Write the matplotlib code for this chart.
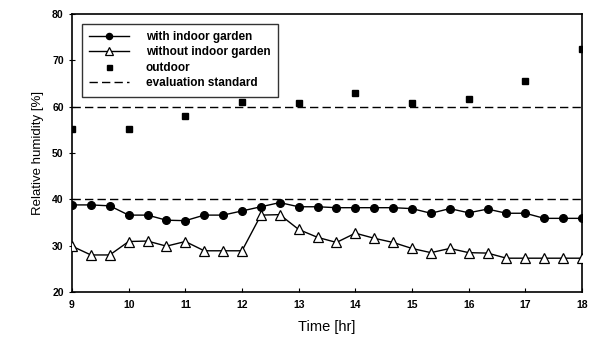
import numpy as np
import matplotlib
matplotlib.use("Agg")
import matplotlib.pyplot as plt

plt.rcParams["font.family"] = ["Liberation Sans", "DejaVu Sans"]

# readings every 20 min, 9:00 - 18:00
time_hr = [9 + i / 3 for i in range(28)]
with_garden = [38.8, 38.8, 38.6, 36.6, 36.6, 35.5, 35.4, 36.6, 36.6, 37.5,
               38.4, 39.3, 38.4, 38.4, 38.2, 38.2, 38.2, 38.2, 38.0, 37.0,
               38.0, 37.1, 37.9, 37.0, 37.0, 35.9, 35.9, 35.9]
without_garden = [29.9, 28.0, 28.0, 30.9, 31.0, 29.9, 30.9, 28.9, 28.9, 28.9,
                  36.6, 36.7, 33.5, 31.8, 30.7, 32.7, 31.6, 30.7, 29.4, 28.5,
                  29.4, 28.5, 28.4, 27.3, 27.3, 27.3, 27.3, 27.3]

# hourly outdoor readings
outdoor_hr = [9, 10, 11, 12, 13, 14, 15, 16, 17, 18]
outdoor = [55.1, 55.1, 58.0, 61.0, 60.9, 62.9, 60.7, 61.7, 65.6, 72.4]

standard_upper = 60
standard_lower = 40

x_ticks = list(range(9, 19))
y_ticks = list(range(20, 81, 10))

fig = plt.figure(figsize=(5.93, 3.46), dpi=100)
ax = fig.add_axes([0.1214, 0.156, 0.8601, 0.8035])

ax.plot(time_hr, with_garden, color="black", lw=1.0, marker="o", ms=5.5,
        mfc="black", mec="black", label="with indoor garden", zorder=3)
ax.plot(time_hr, without_garden, color="black", lw=1.0, marker="^", ms=6.5,
        mfc="white", mec="black", mew=0.9, label="without indoor garden", zorder=3)
ax.plot(outdoor_hr, outdoor, ls="none", marker="s", ms=4.5, color="black",
        label="outdoor", zorder=3)
ax.axhline(standard_upper, color="black", lw=1.0, ls=(0, (6, 3)),
           label="evaluation standard")
ax.axhline(standard_lower, color="black", lw=1.0, ls=(0, (6, 3)))

ax.set_xlim(9, 18)
ax.set_ylim(20, 80)
ax.set_xticks(x_ticks)
ax.set_yticks(y_ticks)
ax.tick_params(axis="x", direction="in", length=3, labelsize=7.5, pad=6)
ax.tick_params(axis="y", direction="inout", length=5, labelsize=7.5)
for lbl in ax.get_xticklabels() + ax.get_yticklabels():
    lbl.set_fontweight("bold")
for s in ax.spines.values():
    s.set_linewidth(1.2)

ax.set_xlabel("Time [hr]", fontsize=10.5, labelpad=7)
ax.set_ylabel("Relative humidity [%]", fontsize=9.5, labelpad=6)

leg = ax.legend(loc="upper left", bbox_to_anchor=(0.02, 0.965), fontsize=8.5,
                frameon=True, fancybox=False, edgecolor="black",
                handlelength=3.4, borderpad=0.6, labelspacing=0.3,
                handletextpad=1.4, markerscale=0.8, borderaxespad=0)
leg.get_frame().set_linewidth(1.0)
for t in leg.get_texts():
    t.set_fontweight("bold")

fig.savefig("out.png", dpi=100)
